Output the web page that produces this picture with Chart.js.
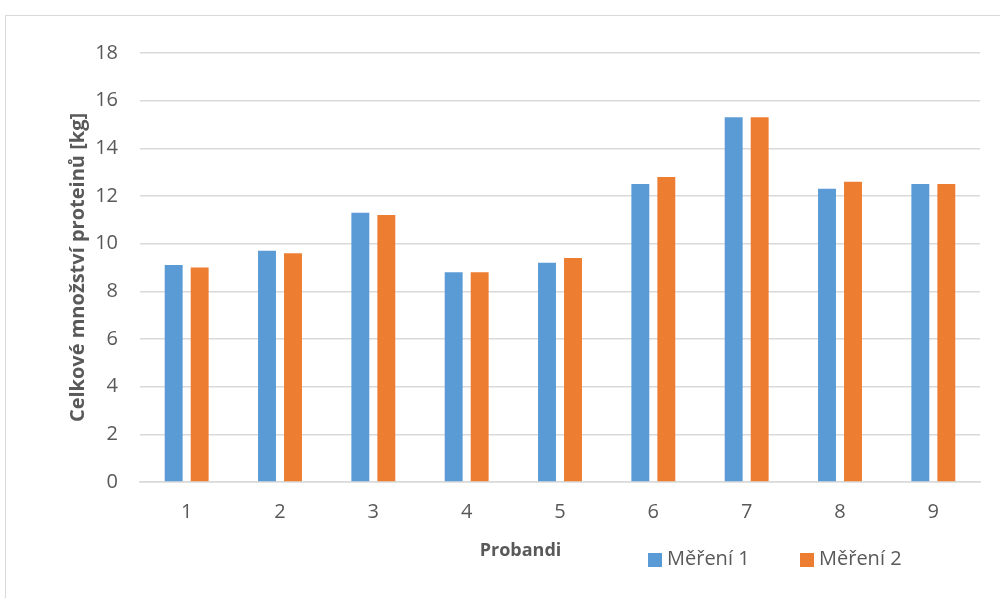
<!DOCTYPE html>
<html lang="cs">
<head>
<meta charset="utf-8">
<title>Celkové množství proteinů</title>
<script src="https://cdn.jsdelivr.net/npm/chart.js@4.4.1/dist/chart.umd.min.js"></script>
<style>
  html, body { margin: 0; padding: 0; background: #ffffff; overflow: hidden; }
  #wrap { position: relative; width: 1000px; height: 598px; }
  #frame { position: absolute; left: 5px; top: 15px; width: 1100px; height: 700px;
           border: 1px solid #d9d9d9; box-sizing: border-box; }
  canvas { position: absolute; left: 0; top: 0; }
</style>
</head>
<body>
<div id="wrap">
  <div id="frame"></div>
  <canvas id="c" width="1000" height="598"></canvas>
</div>
<script>
// Probandi and the two measurement rounds
const categories = ['1', '2', '3', '4', '5', '6', '7', '8', '9'];
const seriesNames = ['Měření 1', 'Měření 2'];
const mereni1 = [9.1, 9.7, 11.3, 8.8, 9.2, 12.5, 15.3, 12.3, 12.5];
const mereni2 = [9.0, 9.6, 11.2, 8.8, 9.4, 12.8, 15.3, 12.6, 12.5];
const yTicks = [0, 2, 4, 6, 8, 10, 12, 14, 16, 18];
const xTitle = 'Probandi';
const yTitle = 'Celkové množství proteinů [kg]';

const colors = ['#5b9bd5', '#ed7d31'];
const textColor = '#595959';
const fontFamily = '"Open Sans", "Liberation Sans", sans-serif';

// Draws the x-axis title and the legend below the plot area
const bottomLabels = {
  id: 'bottomLabels',
  afterDraw(chart) {
    const ctx = chart.ctx;
    const area = chart.chartArea;
    ctx.save();
    ctx.fillStyle = textColor;
    ctx.textBaseline = 'middle';
    ctx.font = 'bold 18px ' + fontFamily;
    ctx.textAlign = 'center';
    ctx.fillText(xTitle, area.left + (area.right - area.left) * 0.453, 551);

    ctx.font = '20px ' + fontFamily;
    ctx.textAlign = 'left';
    const startX = [648, 800];
    chart.data.datasets.forEach((ds, i) => {
      ctx.fillStyle = ds.backgroundColor;
      ctx.fillRect(startX[i], 553, 14, 14);
      ctx.fillStyle = textColor;
      ctx.fillText(ds.label, startX[i] + 19, 559);
    });
    ctx.restore();
  }
};

new Chart(document.getElementById('c'), {
  type: 'bar',
  data: {
    labels: categories,
    datasets: [
      { label: seriesNames[0], data: mereni1, backgroundColor: colors[0] },
      { label: seriesNames[1], data: mereni2, backgroundColor: colors[1] }
    ]
  },
  options: {
    responsive: false,
    animation: false,
    devicePixelRatio: 1,
    layout: { padding: { left: 62, right: 20, top: 53, bottom: 0 } },
    datasets: { bar: { categoryPercentage: 0.557, barPercentage: 0.69 } },
    plugins: {
      legend: { display: false },
      tooltip: { enabled: false }
    },
    scales: {
      x: {
        grid: { display: false, drawTicks: false },
        border: { display: true, color: '#d9d9d9', width: 1.5 },
        ticks: { color: textColor, font: { family: fontFamily, size: 20 }, padding: 18 },
        afterFit(scale) { scale.height = 116; }
      },
      y: {
        min: 0,
        max: 18,
        afterBuildTicks(scale) { scale.ticks = yTicks.map(v => ({ value: v })); },
        grid: { color: '#d9d9d9', lineWidth: 1.5, drawTicks: false },
        border: { display: false },
        ticks: { color: textColor, font: { family: fontFamily, size: 20 }, padding: 22 },
        title: {
          display: true,
          text: yTitle,
          color: textColor,
          font: { family: fontFamily, size: 20, weight: 'bold' },
          padding: { top: 4, bottom: 4 }
        },
        afterFit(scale) { scale.width = 78; }
      }
    }
  },
  plugins: [bottomLabels]
});
</script>
</body>
</html>
